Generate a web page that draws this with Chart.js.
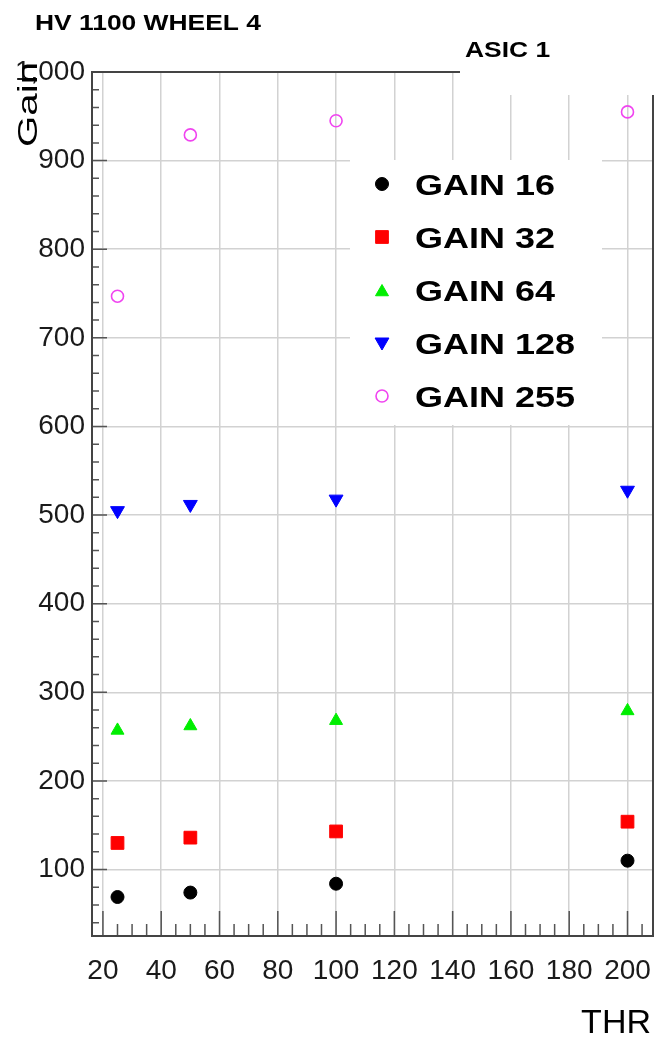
<!DOCTYPE html>
<html>
<head>
<meta charset="utf-8">
<title>HV 1100 WHEEL 4 - ASIC 1</title>
<script src="https://cdn.jsdelivr.net/npm/chart.js@4.4.1/dist/chart.umd.min.js"></script>
<style>
    html, body { margin: 0; padding: 0; background: #fff; }
    #wrap { width: 654px; height: 1039px; }
</style>
</head>
<body>
<div id="wrap"><canvas id="gainChart" width="654" height="1039"></canvas></div>
<script>
// Gain vs threshold, one series per gain setting
const thrValues = [25, 50, 100, 200];
const gain16 = [69, 74, 84, 110];
const gain32 = [130, 136, 143, 154];
const gain64 = [257, 262, 268, 279];
const gain128 = [505, 512, 518, 528];
const gain255 = [747, 929, 945, 955];
const seriesLabels = ['GAIN 16', 'GAIN 32', 'GAIN 64', 'GAIN 128', 'GAIN 255'];

const xRange = [16.25, 208.75];
const yRange = [25, 1000];

const FONT = '"Liberation Sans", Arial, Helvetica, sans-serif';

const toPoints = (ys) => thrValues.map((x, i) => ({ x: x, y: ys[i] }));

// marker styles (roughly ROOT's 20, 21, 22, 23, 24)
const datasets = [
    { label: seriesLabels[0], data: toPoints(gain16), pointStyle: 'circle', pointRadius: 6.5,
      pointBackgroundColor: '#000', pointBorderColor: '#000', pointBorderWidth: 1 },
    { label: seriesLabels[1], data: toPoints(gain32), pointStyle: 'rect', pointRadius: 9,
      pointBackgroundColor: '#ff0000', pointBorderColor: '#ff0000', pointBorderWidth: 1 },
    { label: seriesLabels[2], data: toPoints(gain64), pointStyle: 'triangle', pointRadius: 7.5,
      pointBackgroundColor: '#00ee00', pointBorderColor: '#00ee00', pointBorderWidth: 1 },
    { label: seriesLabels[3], data: toPoints(gain128), pointStyle: 'triangle', pointRotation: 180, pointRadius: 8,
      pointBackgroundColor: '#0000ff', pointBorderColor: '#0000ff', pointBorderWidth: 1 },
    { label: seriesLabels[4], data: toPoints(gain255), pointStyle: 'circle', pointRadius: 6,
      pointBackgroundColor: 'rgba(0,0,0,0)', pointBorderColor: '#f044f0', pointBorderWidth: 1.6 }
];
datasets.forEach(d => { d.showLine = false; d.pointHoverRadius = d.pointRadius; });

function stretchText(ctx, text, x, y, font, sx) {
    ctx.save();
    ctx.translate(x, y);
    ctx.scale(sx, 1);
    ctx.font = font;
    ctx.textAlign = 'left';
    ctx.textBaseline = 'alphabetic';
    ctx.fillText(text, 0, 0);
    ctx.restore();
}

// frame, inward ticks, white paves, texts and legend
const rootDecor = {
    id: 'rootDecor',
    beforeDatasetsDraw(chart) {
        const { ctx, chartArea: a, scales: { x, y } } = chart;
        ctx.save();

        ctx.strokeStyle = '#555';
        ctx.lineWidth = 1.5;
        ctx.beginPath();
        for (let v = 20; v <= yRange[1]; v += 20) {
            if (v < yRange[0]) continue;
            const py = y.getPixelForValue(v);
            const len = v % 100 === 0 ? 15 : 7;
            ctx.moveTo(a.left, py);
            ctx.lineTo(a.left + len, py);
        }
        for (let v = 5; v <= xRange[1]; v += 5) {
            if (v < xRange[0]) continue;
            const px = x.getPixelForValue(v);
            const len = v % 20 === 0 ? 25 : 12;
            ctx.moveTo(px, a.bottom);
            ctx.lineTo(px, a.bottom - len);
        }
        ctx.stroke();

        ctx.strokeStyle = '#444';
        ctx.lineWidth = 2;
        ctx.strokeRect(a.left, a.top, a.right - a.left, a.bottom - a.top);

        // title pave (top right) and legend box
        ctx.fillStyle = '#fff';
        ctx.fillRect(460, 0, 194, 95);
        ctx.fillRect(350, 160, 252, 265);
        ctx.restore();
    },
    afterDatasetsDraw(chart) {
        const { ctx } = chart;
        ctx.save();
        ctx.fillStyle = '#000';

        stretchText(ctx, 'HV 1100 WHEEL 4', 35, 30, 'bold 22px ' + FONT, 1.2);
        stretchText(ctx, 'ASIC 1', 465, 57, 'bold 22px ' + FONT, 1.2);

        // legend
        chart.data.datasets.forEach((ds, i) => {
            const cy = 184 + i * 53;
            ctx.fillStyle = ds.pointBackgroundColor;
            ctx.strokeStyle = ds.pointBorderColor;
            ctx.lineWidth = ds.pointBorderWidth;
            Chart.helpers.drawPoint(ctx, {
                pointStyle: ds.pointStyle,
                rotation: ds.pointRotation || 0,
                radius: ds.pointRadius,
                borderWidth: ds.pointBorderWidth
            }, 382, cy + (ds.pointStyle === 'triangle' ? (ds.pointRotation ? -1 : 2) : 0));
            ctx.fillStyle = '#000';
            stretchText(ctx, ds.label, 415, cy + 10.5, 'bold 29px ' + FONT, 1.24);
        });

        // axis titles
        ctx.save();
        ctx.translate(37, 147);
        ctx.rotate(-Math.PI / 2);
        ctx.scale(1.44, 1);
        ctx.font = '28px ' + FONT;
        ctx.textAlign = 'left';
        ctx.textBaseline = 'alphabetic';
        ctx.fillText('Gain', 0, 0);
        ctx.restore();

        ctx.font = '34px ' + FONT;
        ctx.textAlign = 'right';
        ctx.textBaseline = 'alphabetic';
        ctx.fillText('THR', 651, 1033);
        ctx.restore();
    }
};

new Chart(document.getElementById('gainChart').getContext('2d'), {
    type: 'scatter',
    data: { datasets: datasets },
    options: {
        responsive: false,
        animation: false,
        events: [],
        // autoPadding off: big markers would otherwise shrink the plot area
        layout: { autoPadding: false, padding: { top: 72, right: 1, left: 0, bottom: 0 } },
        plugins: {
            legend: { display: false },
            tooltip: { enabled: false }
        },
        scales: {
            x: {
                type: 'linear',
                min: xRange[0],
                max: xRange[1],
                afterFit: (s) => { s.height = 103; s.paddingLeft = 0; s.paddingRight = 0; },
                ticks: {
                    stepSize: 20, includeBounds: false, autoSkip: false, maxRotation: 0,
                    // tall line height pushes the labels down instead of tick padding
                    font: { family: FONT, size: 28, lineHeight: 2.55 }, color: '#1a1a1a', padding: 0
                },
                grid: { color: '#d2d2d2', lineWidth: 1.5, drawTicks: false },
                border: { display: false }
            },
            y: {
                type: 'linear',
                min: yRange[0],
                max: yRange[1],
                afterFit: (s) => { s.width = 92; s.paddingTop = 0; s.paddingBottom = 0; },
                ticks: {
                    stepSize: 100, includeBounds: false, autoSkip: false,
                    font: { family: FONT, size: 28 }, color: '#1a1a1a', padding: 7
                },
                grid: { color: '#d2d2d2', lineWidth: 1.5, drawTicks: false },
                border: { display: false }
            }
        }
    },
    plugins: [rootDecor]
});
</script>
</body>
</html>
